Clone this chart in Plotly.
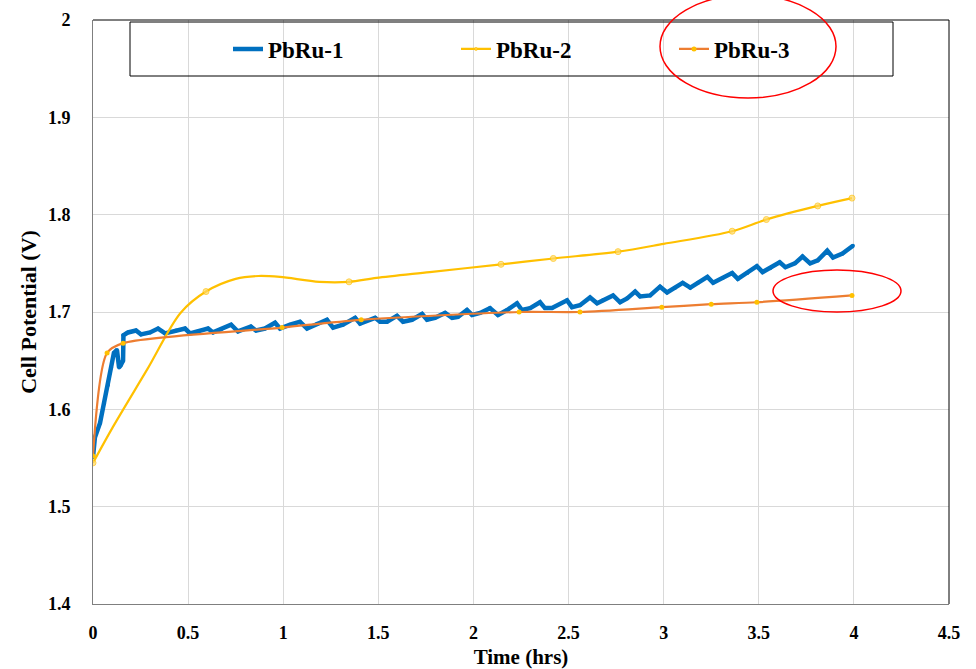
import plotly.graph_objects as go

# ---------------- data ----------------
pb1_t = [0.0, 0.01, 0.037, 0.058, 0.079, 0.095, 0.11, 0.126, 0.137, 0.145, 0.152, 0.158, 0.16, 0.174,
         0.184, 0.226, 0.252, 0.30, 0.342, 0.379, 0.437, 0.484, 0.51, 0.552, 0.605, 0.631, 0.673, 0.726,
         0.762, 0.83, 0.857, 0.904, 0.957, 0.983, 1.036, 1.088, 1.125, 1.178, 1.23, 1.262, 1.314, 1.378,
         1.404, 1.483, 1.509, 1.546, 1.598, 1.63, 1.677, 1.73, 1.756, 1.798, 1.851, 1.888, 1.919, 1.966,
         1.993, 2.035, 2.087, 2.129, 2.177, 2.229, 2.255, 2.298, 2.35, 2.376, 2.413, 2.492, 2.518, 2.56,
         2.613, 2.65, 2.681, 2.734, 2.771, 2.808, 2.85, 2.876, 2.929, 2.981, 3.018, 3.06, 3.10, 3.14,
         3.18, 3.23, 3.26, 3.31, 3.36, 3.39, 3.44, 3.49, 3.52, 3.56, 3.61, 3.64, 3.69, 3.73, 3.77, 3.81,
         3.86, 3.89, 3.94, 3.995]
pb1_v = [1.551, 1.571, 1.586, 1.606, 1.625, 1.643, 1.658, 1.661, 1.643, 1.645, 1.649, 1.650, 1.676, 1.678,
         1.679, 1.681, 1.677, 1.679, 1.683, 1.678, 1.681, 1.683, 1.678, 1.680, 1.683, 1.679, 1.682, 1.687,
         1.680, 1.685, 1.681, 1.683, 1.689, 1.683, 1.687, 1.690, 1.683, 1.688, 1.692, 1.684, 1.687, 1.694,
         1.688, 1.694, 1.690, 1.690, 1.696, 1.690, 1.692, 1.698, 1.692, 1.694, 1.699, 1.694, 1.695, 1.702,
         1.697, 1.699, 1.704, 1.697, 1.702, 1.709, 1.702, 1.704, 1.710, 1.704, 1.704, 1.712, 1.705, 1.707,
         1.715, 1.709, 1.712, 1.717, 1.710, 1.714, 1.721, 1.716, 1.717, 1.726, 1.720, 1.725, 1.730, 1.725,
         1.730, 1.736, 1.730, 1.735, 1.740, 1.734, 1.740, 1.747, 1.741, 1.745, 1.751, 1.746, 1.750, 1.757,
         1.750, 1.753, 1.763, 1.756, 1.760, 1.768]

pb2_t = [0.0, 0.105, 0.285, 0.46, 0.594, 0.75, 0.87, 0.983, 1.19, 1.346, 1.49, 1.77, 2.145, 2.42,
         2.76, 3.0, 3.36, 3.54, 3.81, 3.99]
pb2_v = [1.545, 1.582, 1.641, 1.699, 1.721, 1.734, 1.737, 1.736, 1.731, 1.731, 1.735, 1.741, 1.749, 1.755,
         1.762, 1.770, 1.783, 1.795, 1.809, 1.817]
pb2_marked = [1, 0, 0, 0, 1, 0, 0, 0, 0, 1, 0, 0, 1, 1, 1, 0, 1, 1, 1, 1]

pb3_t = [0.0, 0.074, 0.158, 0.994, 1.41, 2.24, 2.56, 2.99, 3.25, 3.49, 3.99]
pb3_v = [1.552, 1.658, 1.668, 1.684, 1.692, 1.700, 1.700, 1.705, 1.708, 1.710, 1.717]

x_ticks = [0, 0.5, 1, 1.5, 2, 2.5, 3, 3.5, 4, 4.5]
x_labels = ["0", "0.5", "1", "1.5", "2", "2.5", "3", "3.5", "4", "4.5"]
y_ticks = [1.4, 1.5, 1.6, 1.7, 1.8, 1.9, 2.0]
y_labels = ["1.4", "1.5", "1.6", "1.7", "1.8", "1.9", "2"]

# ---------------- figure ----------------
FONT = "Liberation Serif"
BLUE = "#0070C0"
YELLOW = "#FFC000"
ORANGE = "#ED7D31"

fig = go.Figure()
fig.add_trace(go.Scatter(
    x=pb1_t, y=pb1_v, name="PbRu-1", mode="lines+markers", legend="legend",
    line=dict(color=BLUE, width=4.5), marker=dict(color=BLUE, size=4)))
fig.add_trace(go.Scatter(
    x=pb2_t, y=pb2_v, name="PbRu-2", mode="lines+markers", legend="legend2",
    line=dict(color=YELLOW, width=2.2, shape="spline", smoothing=0.9),
    marker=dict(color="#FFD966", size=[6 if m else 0 for m in pb2_marked])))
fig.add_trace(go.Scatter(
    x=pb3_t, y=pb3_v, name="PbRu-3", mode="lines+markers", legend="legend3",
    line=dict(color=ORANGE, width=2.2, shape="spline", smoothing=0.8),
    marker=dict(color=YELLOW, size=5)))

W, H = 976, 669
L, R, T, B = 93, 27, 20, 65
pw, ph = W - L - R, H - T - B

def px(xp):
    return (xp - L) / pw

def py(yp):
    return 1 - (yp - T) / ph

shapes = [
    dict(type="line", xref="paper", yref="paper", x0=0, x1=1, y0=1, y1=1,
         line=dict(color="black", width=1)),
    dict(type="line", xref="paper", yref="paper", x0=1, x1=1, y0=0, y1=1,
         line=dict(color="black", width=1)),
    dict(type="rect", xref="paper", yref="paper", x0=px(130), x1=px(893), y0=py(76), y1=py(22),
         line=dict(color="black", width=1)),
    dict(type="circle", xref="paper", yref="paper", x0=px(660), x1=px(836), y0=py(98), y1=py(-5),
         line=dict(color="red", width=1.5)),
    dict(type="circle", xref="paper", yref="paper", x0=px(773), x1=px(901), y0=py(312), y1=py(270),
         line=dict(color="red", width=1.5)),
]

def leg(xpix):
    return dict(orientation="h", x=px(xpix), xanchor="left", y=py(49), yanchor="middle",
                bgcolor="rgba(0,0,0,0)", borderwidth=0,
                font=dict(family=FONT, size=23, color="black", weight="bold"),
                itemwidth=30)

fig.update_layout(
    width=W, height=H,
    margin=dict(l=L, r=R, t=T, b=B, autoexpand=False),
    paper_bgcolor="white", plot_bgcolor="white",
    font=dict(family=FONT, size=18, color="black"),
    showlegend=True,
    legend=leg(228),
    legend2=leg(456),
    legend3=leg(674),
    shapes=shapes,
    xaxis=dict(range=[0, 4.5], tickvals=x_ticks, ticktext=x_labels,
               showgrid=True, gridcolor="#D9D9D9", gridwidth=1,
               showline=True, linecolor="#7F7F7F", linewidth=1, zeroline=False,
               ticks="", ticklabelstandoff=12,
               tickfont=dict(family=FONT, size=18, weight="bold"),
               title=dict(text="Time (hrs)", standoff=8,
                          font=dict(family=FONT, size=21, weight="bold"))),
    yaxis=dict(range=[1.4, 2.0], tickvals=y_ticks, ticktext=y_labels,
               showgrid=True, gridcolor="#D9D9D9", gridwidth=1,
               showline=True, linecolor="#7F7F7F", linewidth=1, zeroline=False,
               ticks="", ticklabelstandoff=18,
               tickfont=dict(family=FONT, size=18, weight="bold"),
               title=dict(text="Cell Potential (V)", standoff=5,
                          font=dict(family=FONT, size=22, weight="bold"))),
)

fig.write_html("out.html")
